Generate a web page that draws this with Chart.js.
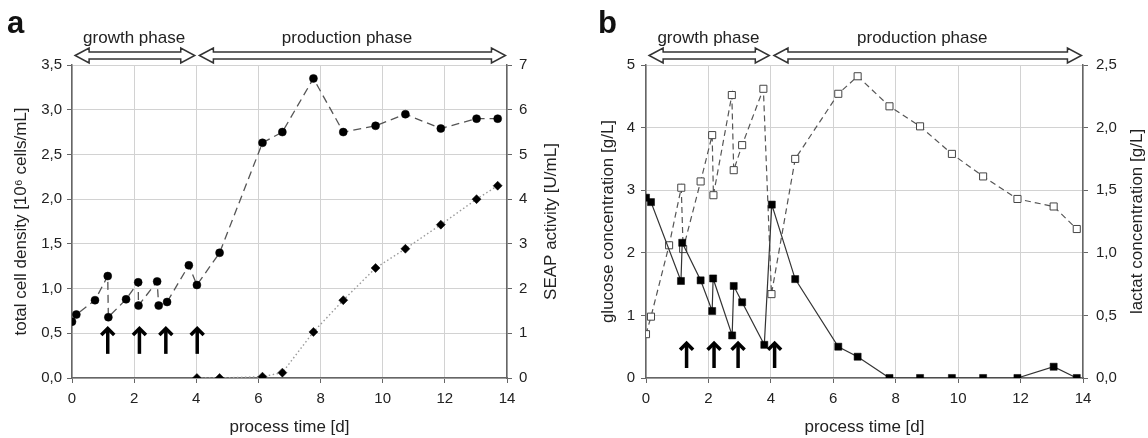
<!DOCTYPE html>
<html>
<head>
<meta charset="utf-8">
<script src="https://cdn.jsdelivr.net/npm/chart.js@4/dist/chart.umd.min.js"></script>
<style>
  body { margin: 0; background: #fff; }
  .panel { position: absolute; top: 0; width: 574px; height: 438px; }
</style>
</head>
<body>
<div class="panel" style="left:0"><canvas id="chartA" width="574" height="438"></canvas></div>
<div class="panel" style="left:574px"><canvas id="chartB" width="574" height="438"></canvas></div>
<script>
// ---------------------------------------------------------------
// data

// panel a: cell density + SEAP
const cellDays = [0, 0.14, 0.74, 1.15, 1.17, 1.74, 2.13, 2.14, 2.74, 2.79, 3.06, 3.76, 4.02, 4.75, 6.13, 6.77, 7.77, 8.73, 9.77, 10.73, 11.87, 13.02, 13.7];
const cellDensity = [0.63, 0.71, 0.87, 1.14, 0.68, 0.88, 1.07, 0.81, 1.08, 0.81, 0.85, 1.26, 1.04, 1.40, 2.63, 2.75, 3.35, 2.75, 2.82, 2.95, 2.79, 2.90, 2.90];
const seapDays = [4.02, 4.75, 6.13, 6.77, 7.77, 8.73, 9.77, 10.73, 11.87, 13.02, 13.7];
const seapActivity = [0, 0, 0.03, 0.12, 1.03, 1.74, 2.46, 2.89, 3.43, 4.0, 4.3];
const feedDaysA = [1.15, 2.17, 3.02, 4.03];

// panel b: glucose + lactat
const glucoseDays = [0, 0.16, 1.12, 1.16, 1.75, 2.12, 2.15, 2.76, 2.81, 3.08, 3.79, 4.03, 4.78, 6.16, 6.78, 7.8, 8.78, 9.8, 10.8, 11.9, 13.06, 13.8];
const glucose = [2.88, 2.81, 1.55, 2.16, 1.56, 1.07, 1.59, 0.68, 1.47, 1.21, 0.53, 2.77, 1.58, 0.50, 0.34, 0, 0, 0, 0, 0, 0.18, 0];
const lactatDays = [0, 0.16, 0.74, 1.13, 1.19, 1.75, 2.12, 2.16, 2.75, 2.81, 3.08, 3.76, 4.02, 4.78, 6.16, 6.78, 7.8, 8.78, 9.8, 10.8, 11.9, 13.06, 13.8];
const lactat = [0.35, 0.49, 1.06, 1.52, 1.03, 1.57, 1.94, 1.46, 2.26, 1.66, 1.86, 2.31, 0.67, 1.75, 2.27, 2.41, 2.17, 2.01, 1.79, 1.61, 1.43, 1.37, 1.19];
const feedDaysB = [1.3, 2.18, 2.95, 4.12];

// phases above both panels
const phaseNames = ['growth phase', 'production phase'];
const phaseStart = [0.1, 4.1];
const phaseEnd = [3.95, 13.95];
const phaseLabelAt = [2.0, 8.85];

// ---------------------------------------------------------------

const FONT = '"Liberation Sans", Arial, sans-serif';

function pts(xs, ys) {
    return xs.map((d, i) => ({ x: d, y: ys[i] }));
}

function comma(v) {
    return v.toFixed(1).replace('.', ',');
}

function phaseArrow(ctx, x1, x2, cy) {
    var hh = 7.5, sh = 3.5, hw = 14;
    ctx.beginPath();
    ctx.moveTo(x1, cy);
    ctx.lineTo(x1 + hw, cy - hh);
    ctx.lineTo(x1 + hw, cy - sh);
    ctx.lineTo(x2 - hw, cy - sh);
    ctx.lineTo(x2 - hw, cy - hh);
    ctx.lineTo(x2, cy);
    ctx.lineTo(x2 - hw, cy + hh);
    ctx.lineTo(x2 - hw, cy + sh);
    ctx.lineTo(x1 + hw, cy + sh);
    ctx.lineTo(x1 + hw, cy + hh);
    ctx.closePath();
    ctx.fillStyle = '#fff';
    ctx.fill();
    ctx.strokeStyle = '#333';
    ctx.lineWidth = 1.5;
    ctx.stroke();
}

// extra drawing: phase arrows, feed arrows, axis titles, panel letter
const decor = {
    id: 'decor',
    afterDraw(chart, args, o) {
        const ctx = chart.ctx;
        const a = chart.chartArea;
        const xs = chart.scales.x, ys = chart.scales.y;
        ctx.save();

        ctx.fillStyle = '#111';
        ctx.font = 'bold 31px ' + FONT;
        ctx.textAlign = 'left';
        ctx.textBaseline = 'alphabetic';
        ctx.fillText(o.letter, o.letterX, 33);

        for (let i = 0; i < phaseNames.length; i++) {
            phaseArrow(ctx, xs.getPixelForValue(phaseStart[i]), xs.getPixelForValue(phaseEnd[i]), 55.5);
            ctx.fillStyle = '#222';
            ctx.font = '17px ' + FONT;
            ctx.textAlign = 'center';
            ctx.textBaseline = 'alphabetic';
            ctx.fillText(phaseNames[i], xs.getPixelForValue(phaseLabelAt[i]), 43);
        }

        // feed arrows
        ctx.strokeStyle = '#000';
        ctx.lineWidth = 3.5;
        ctx.lineJoin = 'miter';
        o.feedDays.forEach(d => {
            var px = xs.getPixelForValue(d);
            var top = ys.getPixelForValue(o.feedHigh);
            var bot = ys.getPixelForValue(o.feedLow);
            ctx.beginPath();
            ctx.moveTo(px, bot);
            ctx.lineTo(px, top + 3);
            ctx.stroke();
            ctx.beginPath();
            ctx.moveTo(px - 6.5, top + 8);
            ctx.lineTo(px, top + 1.5);
            ctx.lineTo(px + 6.5, top + 8);
            ctx.stroke();
        });

        // axis titles
        ctx.fillStyle = '#222';
        ctx.font = '17px ' + FONT;
        ctx.textAlign = 'center';
        ctx.textBaseline = 'alphabetic';
        ctx.fillText('process time [d]', (a.left + a.right) / 2, 432);
        ctx.textBaseline = 'middle';
        var cy = (a.top + a.bottom) / 2;
        ctx.save();
        ctx.translate(o.leftTitleX, cy);
        ctx.rotate(-Math.PI / 2);
        ctx.fillText(o.leftTitle, 0, 0);
        ctx.restore();
        ctx.save();
        ctx.translate(o.rightTitleX, cy);
        ctx.rotate(-Math.PI / 2);
        ctx.fillText(o.rightTitle, 0, 0);
        ctx.restore();

        ctx.restore();
    }
};

function axisX() {
    return {
        type: 'linear', min: 0, max: 14,
        afterFit: s => { s.height = 60; },
        ticks: { stepSize: 2, padding: 7, color: '#222', font: { size: 15, family: FONT } },
        grid: { color: '#d2d2d2', tickColor: '#666', tickLength: 5 },
        border: { color: '#666', width: 1.5 }
    };
}

function axisY(pos, min, max, step, fmt, width, pad, onArea) {
    return {
        type: 'linear', position: pos, min: min, max: max,
        afterFit: s => { s.width = width; },
        ticks: { stepSize: step, padding: pad, color: '#222', font: { size: 15, family: FONT }, callback: fmt },
        grid: { color: '#d2d2d2', tickColor: '#666', tickLength: 5, drawOnChartArea: onArea },
        border: { color: '#666', width: 1.5 }
    };
}

Chart.defaults.font.family = FONT;

new Chart(document.getElementById('chartA'), {
    type: 'scatter',
    data: {
        datasets: [{
            label: 'total cell density',
            data: pts(cellDays, cellDensity),
            yAxisID: 'y',
            showLine: true,
            borderColor: '#555',
            borderWidth: 1.3,
            borderDash: [8, 5],
            pointStyle: 'circle',
            pointRadius: 4,
            pointBackgroundColor: '#000',
            pointBorderColor: '#000',
            pointBorderWidth: 0.5
        }, {
            label: 'SEAP activity',
            data: pts(seapDays, seapActivity),
            yAxisID: 'y2',
            showLine: true,
            borderColor: '#9a9a9a',
            borderWidth: 1.4,
            borderDash: [1.5, 2.5],
            pointStyle: 'rectRot',
            pointRadius: 4.5,
            pointBackgroundColor: '#000',
            pointBorderColor: '#000',
            pointBorderWidth: 0.5
        }]
    },
    options: {
        responsive: false,
        animation: false,
        layout: { padding: { top: 65, left: 0, right: 0, bottom: 0 } },
        scales: {
            x: axisX(),
            y: axisY('left', 0, 3.5, 0.5, v => comma(v), 72, 5, true),
            y2: axisY('right', 0, 7, 1, v => String(v), 67, 7, false)
        },
        plugins: {
            legend: { display: false },
            tooltip: { enabled: false },
            decor: {
                letter: 'a', letterX: 7,
                feedDays: feedDaysA, feedLow: 0.27, feedHigh: 0.57,
                leftTitle: 'total cell density [10\u2076 cells/mL]', leftTitleX: 21,
                rightTitle: 'SEAP activity [U/mL]', rightTitleX: 551
            }
        }
    },
    plugins: [decor]
});

new Chart(document.getElementById('chartB'), {
    type: 'scatter',
    data: {
        datasets: [{
            label: 'glucose',
            data: pts(glucoseDays, glucose),
            yAxisID: 'y',
            showLine: true,
            borderColor: '#333',
            borderWidth: 1.2,
            pointStyle: 'rect',
            pointRadius: 5,
            pointBackgroundColor: '#000',
            pointBorderColor: '#000',
            pointBorderWidth: 0.5
        }, {
            label: 'lactat',
            data: pts(lactatDays, lactat),
            yAxisID: 'y2',
            showLine: true,
            borderColor: '#555',
            borderWidth: 1.2,
            borderDash: [6, 4],
            pointStyle: 'rect',
            pointRadius: 5,
            pointBackgroundColor: '#fff',
            pointBorderColor: '#444',
            pointBorderWidth: 1
        }]
    },
    options: {
        responsive: false,
        animation: false,
        layout: { padding: { top: 65, left: 0, right: 0, bottom: 0 } },
        scales: {
            x: axisX(),
            y: axisY('left', 0, 5, 1, v => String(v), 72, 6, true),
            y2: axisY('right', 0, 2.5, 0.5, v => comma(v), 65, 8, false)
        },
        plugins: {
            legend: { display: false },
            tooltip: { enabled: false },
            decor: {
                letter: 'b', letterX: 24,
                feedDays: feedDaysB, feedLow: 0.16, feedHigh: 0.58,
                leftTitle: 'glucose concentration [g/L]', leftTitleX: 34,
                rightTitle: 'lactat concentration [g/L]', rightTitleX: 563
            }
        }
    },
    plugins: [decor]
});
</script>
</body>
</html>
